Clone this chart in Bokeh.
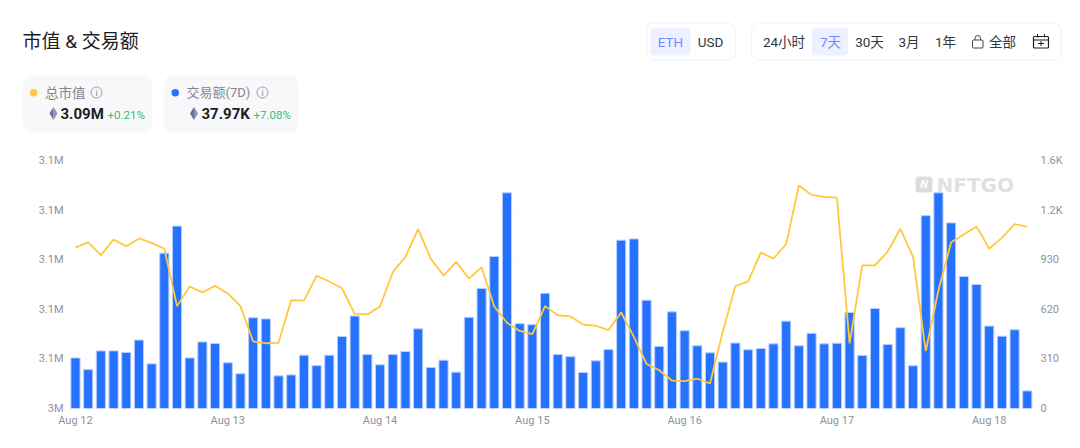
from bokeh.plotting import figure
from bokeh.layouts import column
from bokeh.models import Range1d, LinearAxis, FixedTicker, ColumnDataSource
from bokeh.core.properties import value
from bokeh.embed import file_html
from bokeh.resources import INLINE

# Data
volume = [316,243,360,360,350,428,279,971,1140,316,416,406,286,217,567,560,204,210,333,268,333,450,578,338,273,
          338,356,498,256,302,227,570,750,950,1348,530,524,720,338,324,225,298,368,1052,1060,677,388,604,486,392,348,290,
          409,367,375,404,546,392,470,404,408,600,332,625,400,505,267,1205,1348,1160,825,775,515,452,492,110]
mcap = [3.0811,3.0837,3.0773,3.0852,3.0818,3.0857,3.0835,3.0806,3.0516,3.0615,3.0585,3.0618,3.0580,3.0516,3.0338,
        3.0329,3.0331,3.0546,3.0544,3.0669,3.0640,3.0606,3.0477,3.0474,3.0514,3.0687,3.0764,3.0904,3.0754,3.0670,3.0739,
        3.0655,3.0712,3.0514,3.0432,3.0391,3.0375,3.0516,3.0470,3.0464,3.0423,3.0417,3.0395,3.0484,3.0361,3.0225,3.0193,
        3.0141,3.0138,3.0150,3.0126,3.0386,3.0617,3.0640,3.0786,3.0756,3.0828,3.1124,3.1077,3.1067,3.1063,3.0328,3.0721,
        3.0721,3.0791,3.0906,3.0764,3.0289,3.0596,3.0838,3.0877,3.0917,3.0805,3.0860,3.0929,3.0917]
idx = list(range(len(volume)))
date_labels = ["Aug 12","Aug 13","Aug 14","Aug 15","Aug 16","Aug 17","Aug 18"]
date_pos = [0,12,24,36,48,60,72]
left_ticks = [3.0,3.025,3.05,3.075,3.1,3.125]
left_labels = ["3M","3.1M","3.1M","3.1M","3.1M","3.1M"]
right_ticks = [0,310,620,930,1240,1550]
right_labels = ["0","310","620","930","1.2K","1.6K"]

W, HEAD, H = 1080, 150, 298
FONT = "Roboto, 'Noto Sans CJK SC'"
BLUE, GOLD = "#2672ff", "#ffc83d"
AX = "#8f91a3"

# ---- chart
p = figure(width=W, height=H, output_backend="svg", toolbar_location=None,
           x_range=Range1d(-0.55, 75.49), y_range=Range1d(left_ticks[0], left_ticks[-1]),
           min_border_left=68, min_border_right=47, min_border_top=10, min_border_bottom=40,
           outline_line_color=None, background_fill_color="white", border_fill_color="white")
p.frame_align = False
p.extra_y_ranges = {"vol": Range1d(right_ticks[0], right_ticks[-1]), "py": Range1d(408, 160)}
p.extra_x_ranges = {"px": Range1d(68, 1033)}

def style(ax):
    ax.axis_line_color = None
    ax.major_tick_line_color = None
    ax.minor_tick_line_color = None
    ax.major_tick_out = 0
    ax.major_tick_in = 0
    ax.minor_tick_out = 0
    ax.major_label_text_color = AX
    ax.major_label_text_font = FONT
    ax.major_label_text_font_size = "11px"

p.yaxis.ticker = FixedTicker(ticks=left_ticks)
p.yaxis.major_label_overrides = dict(zip(left_ticks, left_labels))
p.yaxis.major_label_standoff = 5
style(p.yaxis[0])
r = LinearAxis(y_range_name="vol", ticker=FixedTicker(ticks=right_ticks), major_label_overrides=dict(zip(right_ticks, right_labels)))
style(r)
r.major_label_standoff = 7
p.add_layout(r, "right")
p.xaxis.ticker = FixedTicker(ticks=date_pos)
p.xaxis.major_label_overrides = dict(zip(date_pos, date_labels))
p.xaxis.major_label_standoff = 5
style(p.xaxis[0])
p.xgrid.visible = False
p.ygrid.grid_line_color = "#f3f3f5"
p.ygrid.grid_line_dash = "4 4"
p.ygrid.ticker = FixedTicker(ticks=left_ticks)

src = ColumnDataSource(dict(x=idx, v=volume, m=mcap))
# watermark sits behind the marks
p.quad(left=[915], right=[932], top=[176], bottom=[192], x_range_name="px", y_range_name="py", fill_color="#dcdde1", line_color=None, border_radius=3)
p.text(x=[923.5], y=[184], text=["N"], x_range_name="px", y_range_name="py", text_font=value(FONT), text_font_size="11px",
       text_color="white", text_align="center", text_baseline="middle", text_font_style="bold italic")
p.text(x=[936], y=[184], text=["NFTGO"], x_range_name="px", y_range_name="py", text_font=value("DejaVu Sans"), text_font_size="20px",
       text_color="#e0e1e4", text_baseline="middle", text_font_style="bold")
p.vbar(x="x", top="v", bottom=0, width=0.72, source=src, y_range_name="vol", fill_color=BLUE, line_color="#b5cfff", line_width=1)
p.line(x="x", y="m", source=src, line_color=GOLD, line_width=1.8)

# ---- header, in page pixels
h = figure(width=W, height=HEAD, output_backend="svg", toolbar_location=None, x_range=Range1d(0, W), y_range=Range1d(HEAD, 0),
           min_border=0, outline_line_color=None, x_axis_type=None, y_axis_type=None,
           background_fill_color="white", border_fill_color="white")
h.frame_align = False
h.xgrid.visible = False
h.ygrid.visible = False

def text(x, y, s, size=14, color="#1b1c24", align="left", weight="normal"):
    h.text(x=[x], y=[y], text=[s], text_font=value(FONT), text_font_size=f"{size}px", text_color=color,
           text_align=align, text_baseline="middle", text_font_style=weight)

def box(x0, y0, x1, y1, fill=None, line=None, radius=0, lw=1):
    h.quad(left=[x0], right=[x1], top=[y0], bottom=[y1], fill_color=fill, fill_alpha=1 if fill else 0,
           line_color=line, line_alpha=1 if line else 0, line_width=lw, border_radius=radius)

def poly(xs, ys, fill):
    h.patch(xs, ys, fill_color=fill, line_color=None)

def eth(cx, cy):
    poly([cx-4, cx, cx], [cy, cy-6.5, cy+6.5], "#6a6c95")
    poly([cx, cx+4, cx], [cy-6.5, cy, cy+6.5], "#8f90b0")

def info(cx, cy):
    box(cx-5.5, cy-5.5, cx+5.5, cy+5.5, line="#9a9ba8", radius=6)
    text(cx, cy, "i", size=9, color="#8a8b99", align="center")

text(22, 41, "市值 & 交易额", size=19)

box(22.5, 75, 152, 132, fill="#f8f8fa", radius=8)
box(163.5, 75, 298, 132, fill="#f8f8fa", radius=8)
box(29.5, 88.5, 37, 96, fill=GOLD, radius=4)
box(171, 88.5, 178.5, 96, fill=BLUE, radius=4)
text(44.5, 92, "总市值", size=13.5, color="#85868f")
text(186, 92, "交易额(7D)", size=13, color="#85868f")
info(96, 92)
info(262, 92)
eth(53, 113)
eth(193.5, 113)
text(60, 113, "3.09M", size=15, weight="bold")
text(201, 113, "37.97K", size=15, weight="bold")
text(107, 114, "+0.21%", size=11.5, color="#2dbd7f")
text(253, 114, "+7.08%", size=11.5, color="#2dbd7f")

box(646, 22.5, 735, 59.5, line="#f2f2f5", radius=8)
box(650, 27.5, 690, 55, fill="#edf1ff", radius=4)
box(751, 22.5, 1061, 59.5, line="#f2f2f5", radius=8)
box(811.5, 27.5, 847.5, 55, fill="#edf1ff", radius=4)
TC = "#33343c"
for x, s, c in [(670, "ETH", "#6d8dff"), (710, "USD", TC), (783.5, "24小时", TC), (830, "7天", "#6d8dff"),
                (869, "30天", TC), (908.5, "3月", TC), (945, "1年", TC), (1002, "全部", TC)]:
    text(x, 41, s, size=13.5, color=c, align="center")
# lock
box(974.5, 35, 980, 42, line="#44454d", radius=3)
box(972, 39.5, 982.5, 47.5, fill="white", line="#44454d", radius=1)
# calendar
box(1033, 36, 1048, 47.5, line="#1b1c24", radius=1, lw=1.2)
box(1033, 39, 1048, 40, fill="#1b1c24")
box(1036.5, 33.5, 1037.5, 37, fill="#1b1c24")
box(1043.5, 33.5, 1044.5, 37, fill="#1b1c24")
box(1037.5, 42.5, 1043.5, 43.5, fill="#1b1c24")
box(1040, 40.5, 1041, 45.5, fill="#1b1c24")

open("out.html", "w").write(file_html(column(h, p, spacing=0), INLINE))
